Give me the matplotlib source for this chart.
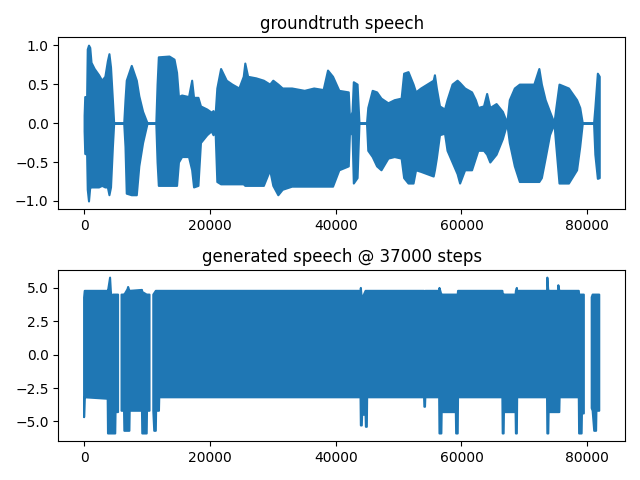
import numpy as np
import matplotlib
matplotlib.use("Agg")
import matplotlib.pyplot as plt

nan = np.nan

# groundtruth speech: envelope (sample index, upper, lower)
gt_x = [0, 100, 400, 500, 700, 900, 1100, 1600, 2300, 2800, 3300, 3700, 3950, 4200, 4500,
        4700, 6300, 6500, 6700, 7500, 8300, 8700, 9300, 10000, 11400, 11600, 11800, 13500,
        14300, 14700, 15000, 15500, 16600, 17100, 17400, 18100, 18500, 19500, 20200, 20500,
        20800, 21100, 21700, 22600, 23500, 24600, 25300, 25550, 26000, 27300, 28500, 29500,
        30000, 30800, 31500, 33000, 35000, 36500, 38000, 38700, 39500, 40500, 42000, 42200,
        42600, 42800, 43400, 43700, 44900, 45100, 45800, 46500, 47200, 48300, 49300, 50400,
        50800, 51500, 52300, 52700, 53500, 54500, 55500, 55700, 56000, 56500, 57300, 57700,
        58500, 59300, 59700, 60500, 61600, 62200, 62600, 63500, 64000, 64500, 65500, 66500,
        67200, 67600, 68400, 69200, 70500, 71500, 72300, 72700, 73300, 74000, 74700, 75000,
        75500, 77000, 78300, 78800, 79200, 81000, 81200, 81600, 81900]
gt_hi = [0.10, 0.34, 0.34, 0.95, 1.00, 0.97, 0.78, 0.70, 0.62, 0.55, 0.60, 0.80, 0.89, 0.72, 0.30,
         0.005, 0.005, 0.30, 0.55, 0.74, 0.55, 0.35, 0.15, 0.005, 0.005, 0.50, 0.85, 0.86,
         0.82, 0.65, 0.34, 0.36, 0.34, 0.55, 0.33, 0.33, 0.22, 0.18, 0.14, 0.16,
         0.08, 0.45, 0.70, 0.55, 0.50, 0.45, 0.60, 0.77, 0.60, 0.58, 0.55, 0.50,
         0.55, 0.50, 0.45, 0.45, 0.42, 0.45, 0.43, 0.68, 0.60, 0.42, 0.40, 0.05,
         0.15, 0.53, 0.50, 0.005, 0.005, 0.20, 0.42, 0.40, 0.32, 0.26, 0.30, 0.32,
         0.64, 0.66, 0.50, 0.40, 0.45, 0.50, 0.55, 0.62, 0.45, 0.22, 0.18, 0.30,
         0.50, 0.55, 0.52, 0.45, 0.40, 0.30, 0.20, 0.22, 0.38, 0.20, 0.25, 0.15,
         0.005, 0.30, 0.45, 0.50, 0.50, 0.50, 0.70, 0.50, 0.30, 0.15, 0.005, 0.20,
         0.50, 0.45, 0.30, 0.20, 0.005, 0.005, 0.20, 0.64, 0.60]
gt_lo = [-0.10, -0.39, -0.40, -0.85, -1.00, -0.82, -0.82, -0.82, -0.82, -0.80, -0.82, -0.82, -0.92, -0.82, -0.30,
         -0.005, -0.005, -0.30, -0.90, -0.92, -0.92, -0.55, -0.25, -0.005, -0.005, -0.50, -0.80, -0.80,
         -0.80, -0.80, -0.50, -0.43, -0.43, -0.60, -0.82, -0.80, -0.25, -0.15, -0.10, -0.15,
         -0.05, -0.75, -0.78, -0.78, -0.78, -0.78, -0.78, -0.80, -0.80, -0.80, -0.80, -0.60,
         -0.80, -0.92, -0.85, -0.81, -0.81, -0.81, -0.81, -0.81, -0.81, -0.60, -0.55, -0.10,
         -0.15, -0.77, -0.70, -0.005, -0.005, -0.35, -0.43, -0.55, -0.60, -0.45, -0.43, -0.45,
         -0.70, -0.77, -0.77, -0.60, -0.62, -0.65, -0.68, -0.60, -0.45, -0.15, -0.13, -0.35,
         -0.50, -0.65, -0.77, -0.60, -0.60, -0.45, -0.35, -0.35, -0.40, -0.50, -0.40, -0.20,
         -0.005, -0.25, -0.55, -0.75, -0.75, -0.75, -0.75, -0.70, -0.45, -0.15, -0.005, -0.30,
         -0.77, -0.77, -0.60, -0.30, -0.005, -0.005, -0.40, -0.71, -0.70]

# generated speech @ 37000 steps: envelope (nan = gap)
gen_x = [0, 100, 3750, 3800, 4130, 4250, 4400, 4600, 4950, 5000, 5400, 5650,
         5950, 6350, 6400, 6900, 7000, 7200, 7250, 9200, 9250, 9950, 10000, 10400, 10700,
         11000, 11150, 11400, 11450, 11900, 11950, 43950, 44000, 44150, 44200, 44750, 44800,
         44950, 45000, 54050, 54100, 54200, 54250, 56450, 56500, 56800, 56850, 59100,
         59150, 59400, 59450, 66500, 66550, 66700, 66750, 68600, 68650, 68800, 68850,
         73600, 73650, 73800, 73850, 75350, 75400, 75550, 75600, 78650, 78700, 79100,
         79150, 79450, 80000,
         80700, 80850, 81100, 81400, 81450, 81900]
gen_hi = [4.28, 4.78, 4.78, 4.78, 5.77, 4.78, 4.03, 4.5, 4.5, 4.5, 4.5, nan,
          4.5, 4.5, 4.5, 4.9, 5.07, 4.78, 4.78, 4.85, 4.7, 4.5, 4.5, 4.5, nan,
          4.5, 4.6, 4.78, 4.78, 4.78, 4.78, 4.78, 5.0, 4.2, 4.2, 4.78, 4.78,
          4.78, 4.78, 4.78, 4.6, 4.6, 4.78, 4.78, 5.0, 4.5, 4.5, 4.5,
          4.5, 4.5, 4.78, 4.78, 4.6, 4.5, 4.5, 4.5, 4.78, 5.0, 4.78,
          4.78, 5.77, 4.78, 4.78, 4.78, 5.2, 4.78, 4.78, 4.78, 4.5, 4.5,
          4.5, 4.5, nan,
          4.3, 4.5, 4.5, 4.5, 4.5, 4.5]
gen_lo = [-4.68, -3.19, -3.30, -5.9, -5.9, -5.9, -5.9, -5.9, -5.9, -4.3, -4.3, nan,
          -4.2, -4.2, -5.7, -5.7, -5.7, -5.7, -4.2, -4.2, -5.9, -5.9, -4.2, -4.2, nan,
          -4.2, -5.7, -5.7, -4.2, -4.2, -3.19, -3.19, -5.3, -5.3, -4.5, -4.5, -5.4,
          -5.4, -3.19, -3.19, -3.9, -3.9, -3.19, -3.19, -5.9, -5.9, -4.3, -4.3,
          -5.9, -5.9, -3.19, -3.19, -5.9, -5.9, -4.3, -4.3, -5.9, -5.9, -3.19,
          -3.19, -5.9, -5.9, -4.3, -4.3, -4.3, -4.3, -3.19, -3.19, -5.9, -5.9,
          -4.4, -4.4, nan,
          -4.0, -4.2, -5.7, -5.7, -4.2, -4.2]

titles = ["groundtruth speech", "generated speech @ 37000 steps"]
color = "#1f77b4"

fig, axes = plt.subplots(2, 1, figsize=(6.4, 4.8), dpi=100)
for ax, x, hi, lo, title in zip(axes, [gt_x, gen_x], [gt_hi, gen_hi], [gt_lo, gen_lo], titles):
    x = np.array(x, dtype=float)
    hi = np.array(hi, dtype=float)
    lo = np.array(lo, dtype=float)
    ax.fill_between(x, lo, hi, color=color, edgecolor=color, linewidth=1.5)
    ax.margins(x=0.05, y=0.05)
    ax.set_title(title)

axes[0].set_yticks([-1.0, -0.5, 0.0, 0.5, 1.0])
axes[1].set_yticks([-5.0, -2.5, 0.0, 2.5, 5.0])
plt.tight_layout()
plt.savefig("out.png")
